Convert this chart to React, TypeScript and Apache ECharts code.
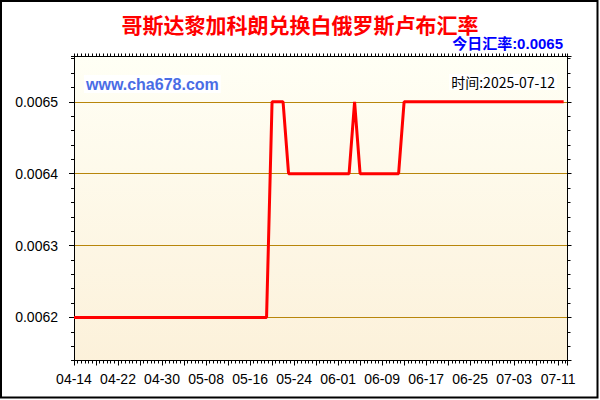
import { useEffect, useRef } from 'react';
import * as echarts from 'echarts';

const chartTitle = '哥斯达黎加科朗兑换白俄罗斯卢布汇率';
const todayRate = '今日汇率:0.0065';
const siteName = 'www.cha678.com';
const timeText = '时间:2025-07-12';

// x 轴刻度文字, 每 8 天一个
const tickLabels = [
  '04-14', '04-22', '04-30', '05-08', '05-16', '05-24',
  '06-01', '06-09', '06-17', '06-25', '07-03', '07-11',
];

// 04-14 到 07-12 每天的汇率
const rates = [
  0.0062, 0.0062, 0.0062, 0.0062, 0.0062, 0.0062, 0.0062, 0.0062, 0.0062, 0.0062,
  0.0062, 0.0062, 0.0062, 0.0062, 0.0062, 0.0062, 0.0062, 0.0062, 0.0062, 0.0062,
  0.0062, 0.0062, 0.0062, 0.0062, 0.0062, 0.0062, 0.0062, 0.0062, 0.0062, 0.0062,
  0.0062, 0.0062, 0.0062, 0.0062, 0.0062, 0.0062, 0.0065, 0.0065, 0.0065, 0.0064,
  0.0064, 0.0064, 0.0064, 0.0064, 0.0064, 0.0064, 0.0064, 0.0064, 0.0064, 0.0064,
  0.0064, 0.0065, 0.0064, 0.0064, 0.0064, 0.0064, 0.0064, 0.0064, 0.0064, 0.0064,
  0.0065, 0.0065, 0.0065, 0.0065, 0.0065, 0.0065, 0.0065, 0.0065, 0.0065, 0.0065,
  0.0065, 0.0065, 0.0065, 0.0065, 0.0065, 0.0065, 0.0065, 0.0065, 0.0065, 0.0065,
  0.0065, 0.0065, 0.0065, 0.0065, 0.0065, 0.0065, 0.0065, 0.0065, 0.0065, 0.0065,
];

const yMin = 0.00614;
const yMax = 0.006563;
const xMax = 89.7;

const black = { color: '#000', width: 1 };

const App = () => {
  const chartRef = useRef<HTMLDivElement>(null);

  useEffect(() => {
    if (!chartRef.current) return;
    const chart = echarts.init(chartRef.current, null, { renderer: 'svg' });

    const xBase = {
      type: 'value',
      min: 0,
      max: xMax,
      interval: 4,
      splitLine: { show: false },
      axisLine: { show: true, lineStyle: black },
    };
    const yBase = {
      type: 'value',
      min: yMin,
      max: yMax,
      splitLine: { show: false },
      axisLabel: { show: false },
    };

    const option = {
      animation: false,
      backgroundColor: '#fff',
      title: {
        text: chartTitle,
        left: 'center',
        top: 13,
        padding: 0,
        textStyle: {
          color: '#ff0000',
          fontSize: 21,
          fontWeight: 'bold',
          fontFamily: 'Noto Sans CJK SC',
        },
      },
      grid: {
        left: 74,
        right: 32.5,
        top: 56.5,
        bottom: 39.5,
        show: true,
        borderWidth: 0,
        backgroundColor: new echarts.graphic.LinearGradient(0, 0, 0, 1, [
          { offset: 0, color: '#fffff5' },
          { offset: 1, color: '#fcf1da' },
        ]),
      },
      xAxis: [
        {
          ...xBase,
          position: 'bottom',
          axisTick: { length: 5, lineStyle: black },
          minorTick: { show: true, splitNumber: 6, length: 3, lineStyle: black },
          axisLabel: {
            color: '#000',
            fontSize: 14,
            fontFamily: 'Liberation Sans',
            margin: 11,
            formatter: (v: number) => (v % 8 === 0 ? tickLabels[v / 8] ?? '' : ''),
          },
        },
        {
          ...xBase,
          position: 'top',
          axisTick: { length: 3, lineStyle: black },
          minorTick: { show: true, splitNumber: 6, length: 3, lineStyle: black },
          axisLabel: { show: false },
        },
      ],
      yAxis: [
        {
          type: 'value',
          min: yMin,
          max: yMax,
          splitNumber: 5,
          position: 'left',
          axisLine: { show: true, lineStyle: black },
          axisTick: { show: true, length: 5, lineStyle: black },
          axisLabel: {
            color: '#000',
            fontSize: 14,
            fontFamily: 'Liberation Sans',
            margin: 16,
            showMinLabel: false,
            showMaxLabel: false,
            formatter: (v: number) => v.toFixed(4),
          },
          splitLine: { show: true, lineStyle: { color: '#b8860b', width: 1 } },
        },
        {
          ...yBase,
          position: 'left',
          interval: 0.00002,
          axisLine: { show: false },
          axisTick: { show: true, length: 3, lineStyle: black },
        },
        {
          ...yBase,
          position: 'right',
          splitNumber: 5,
          axisLine: { show: true, lineStyle: black },
          axisTick: { show: true, length: 4, lineStyle: black },
        },
        {
          ...yBase,
          position: 'right',
          interval: 0.00002,
          axisLine: { show: false },
          axisTick: { show: true, length: 3, lineStyle: black },
        },
      ],
      series: [
        {
          type: 'line',
          xAxisIndex: 0,
          yAxisIndex: 0,
          data: rates.map((v, i) => [i, v]),
          showSymbol: false,
          lineStyle: { color: '#ff0000', width: 3 },
          z: 5,
        },
      ],
      graphic: [
        {
          type: 'rect',
          shape: { x: 1, y: 1, width: 596.5, height: 396.5 },
          style: { fill: 'none', stroke: '#000', lineWidth: 2 },
          z: 100,
        },
        {
          type: 'text',
          x: 563,
          y: 43,
          style: {
            text: todayRate,
            fill: '#0000ff',
            font: 'bold 15px "Liberation Sans", "Noto Sans CJK SC"',
            align: 'right',
            verticalAlign: 'middle',
          },
          z: 100,
        },
        {
          type: 'text',
          x: 84,
          y: 84,
          style: {
            text: siteName,
            fill: '#4a6de5',
            font: 'bold 16px "Liberation Sans"',
            align: 'left',
            verticalAlign: 'middle',
            backgroundColor: '#ffffff',
            padding: [1, 2],
          },
          z: 100,
        },
        {
          type: 'text',
          x: 557,
          y: 82,
          style: {
            text: timeText,
            fill: '#000',
            font: '14px "Noto Sans CJK SC"',
            align: 'right',
            verticalAlign: 'middle',
            backgroundColor: '#ffffff',
            padding: [1, 2],
          },
          z: 100,
        },
      ],
    };

    chart.setOption(option as any);
    return () => {
      chart.dispose();
    };
  }, []);

  return (
    <div
      ref={chartRef}
      style={{ position: 'fixed', left: 0, top: 0, width: 600, height: 400 }}
    />
  );
};

export default App;
